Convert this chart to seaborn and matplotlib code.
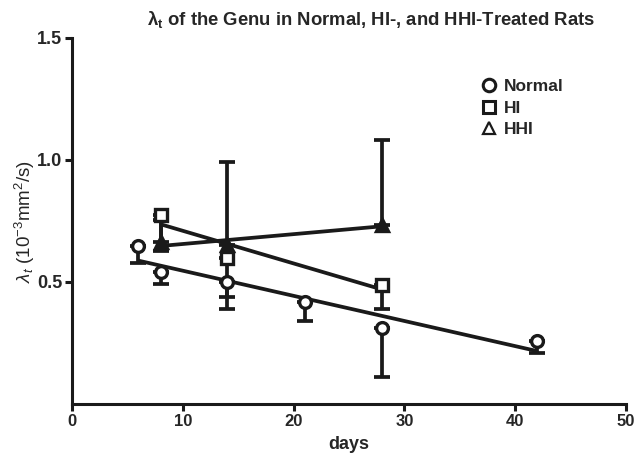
import numpy as np
import pandas as pd
import matplotlib
matplotlib.use("Agg")
import matplotlib.pyplot as plt
from matplotlib.lines import Line2D
import seaborn as sns

# Data
normal_days = [6, 8, 14, 21, 28, 42]
normal_vals = [0.646, 0.54, 0.50, 0.417, 0.31, 0.257]
normal_err_lo = [0.07, 0.05, 0.11, 0.075, 0.20, 0.047]

hi_days = [8, 14, 28]
hi_vals = [0.776, 0.60, 0.486]
hi_err_lo = [0.15, 0.16, 0.096]

hhi_days = [8, 14, 28]
hhi_vals = [0.663, 0.65, 0.735]
hhi_err_hi = [0.09, 0.34, 0.345]

x_ticks = [0, 10, 20, 30, 40, 50]
y_ticks = [0.5, 1.0, 1.5]

sns.set_style("ticks")
plt.rcParams["font.family"] = ["Liberation Sans", "DejaVu Sans"]
plt.rcParams["mathtext.fontset"] = "custom"
plt.rcParams["mathtext.rm"] = "Liberation Sans"
plt.rcParams["mathtext.it"] = "Liberation Sans:italic"
plt.rcParams["mathtext.bf"] = "Liberation Sans:bold"

fig = plt.figure(figsize=(6.37, 4.54), dpi=100)
ax = fig.add_axes([72 / 637, 1 - 404 / 454, (626 - 72) / 637, (404 - 38) / 454])

col = "#1a1a1a"
lw = 2.7

df_n = pd.DataFrame({"days": normal_days, "v": normal_vals})
df_h = pd.DataFrame({"days": hi_days, "v": hi_vals})
df_hh = pd.DataFrame({"days": hhi_days, "v": hhi_vals})

for d in (df_n, df_h, df_hh):
    sns.regplot(data=d, x="days", y="v", ax=ax, scatter=False, ci=None,
                line_kws=dict(color=col, lw=lw, zorder=2, solid_capstyle="butt"))

ebkw = dict(fmt="none", ecolor=col, elinewidth=lw, capsize=5.5, capthick=lw, zorder=3)
ax.errorbar(normal_days, normal_vals, yerr=[normal_err_lo, [0] * len(normal_days)], **ebkw)
ax.errorbar(hi_days, hi_vals, yerr=[hi_err_lo, [0] * len(hi_days)], **ebkw)
ax.errorbar(hhi_days, hhi_vals, yerr=[[0] * len(hhi_days), hhi_err_hi], **ebkw)

mk = dict(color=col, markeredgewidth=2.4, linestyle="none", zorder=4)
ax.plot(normal_days, normal_vals, marker="o", markersize=8.5, markerfacecolor="white", **mk)
ax.plot(hi_days, hi_vals, marker="s", markersize=8.5, markerfacecolor="white", **mk)
ax.plot(hhi_days, hhi_vals, marker="^", markersize=8.5, markerfacecolor=col, **mk)

ax.set_xlim(0, 50)
ax.set_ylim(0, 1.5)
ax.set_xticks(x_ticks)
ax.set_yticks(y_ticks)
ax.set_xticklabels([str(t) for t in x_ticks], fontweight="bold", fontsize=12)
ax.set_yticklabels([f"{t:.1f}" for t in y_ticks], fontweight="bold", fontsize=13)
ax.tick_params(width=2.2, length=5, color=col, pad=2)
sns.despine(ax=ax)
for s in ("left", "bottom"):
    ax.spines[s].set_linewidth(2.2)
    ax.spines[s].set_color(col)

ax.set_xlabel("days", fontweight="bold", fontsize=13, labelpad=5)
ax.set_ylabel(r"$\lambda_t$ (10$^{-3}$mm$^2$/s)", fontsize=13.5, labelpad=0)
ax.set_title(r"$\mathbf{\lambda_t}$ of the Genu in Normal, HI-, and HHI-Treated Rats",
             fontweight="bold", fontsize=13.3, pad=9, x=0.54)

handles = [
    Line2D([], [], marker="o", markersize=9, markerfacecolor="white", markeredgecolor=col, markeredgewidth=2.2, linestyle="none"),
    Line2D([], [], marker="s", markersize=9, markerfacecolor="white", markeredgecolor=col, markeredgewidth=2.2, linestyle="none"),
    Line2D([], [], marker="^", markersize=8, markerfacecolor="white", markeredgecolor=col, markeredgewidth=1.6, linestyle="none"),
]
ax.legend(handles, ["Normal", "HI", "HHI"], loc="upper left", bbox_to_anchor=(0.705, 0.93),
          frameon=False, prop=dict(weight="bold", size=12.5), handletextpad=0.3,
          labelspacing=0.35, handlelength=1.2)

fig.savefig("out.png", dpi=100)
